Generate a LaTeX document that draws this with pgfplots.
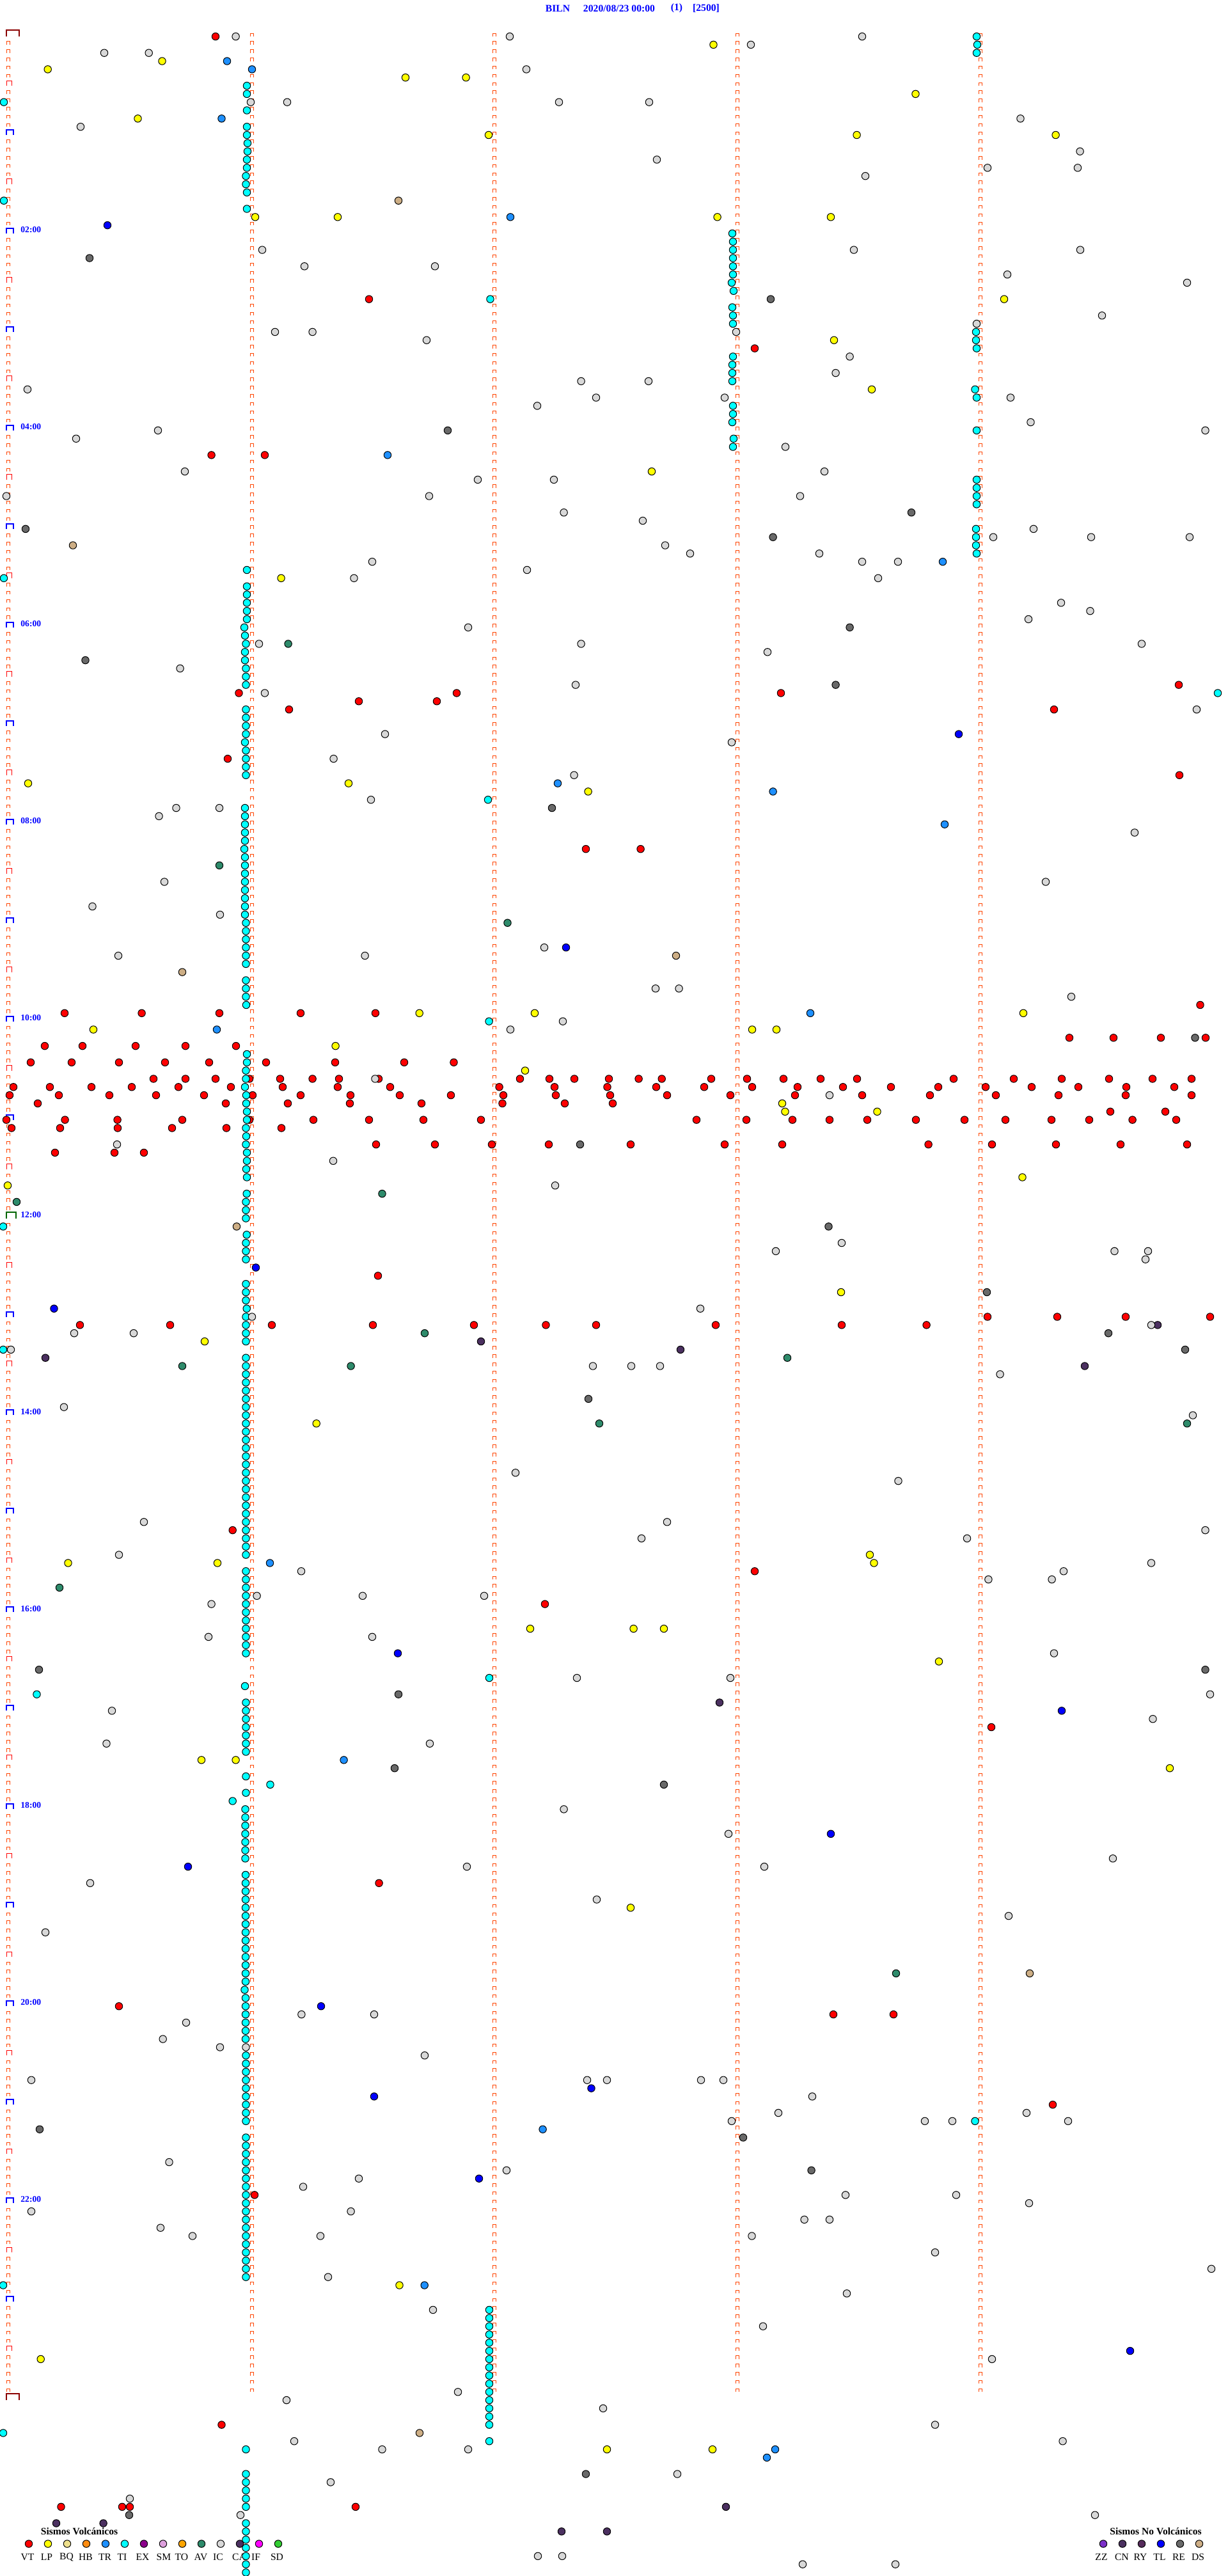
\documentclass[border=0pt]{standalone}
\usepackage{fontspec}
\setmainfont{Liberation Serif}
\usepackage{pgfplots}
\usepackage{pgfplotstable}
\pgfplotsset{compat=1.18}
\definecolor{cVT}{HTML}{FF0000}
\definecolor{cLP}{HTML}{FFFF00}
\definecolor{cBQ}{HTML}{EEE08C}
\definecolor{cHB}{HTML}{FF8C10}
\definecolor{cTR}{HTML}{1E90FF}
\definecolor{cTI}{HTML}{00FFFF}
\definecolor{cEX}{HTML}{8B008B}
\definecolor{cSM}{HTML}{DDA0DD}
\definecolor{cTO}{HTML}{FFA500}
\definecolor{cAV}{HTML}{2E8B6B}
\definecolor{cIC}{HTML}{D8D8D8}
\definecolor{cCA}{HTML}{4B3060}
\definecolor{cIF}{HTML}{FF00FF}
\definecolor{cSD}{HTML}{32CD32}
\definecolor{cZZ}{HTML}{7B2FC8}
\definecolor{cCN}{HTML}{4B3060}
\definecolor{cRY}{HTML}{552B5B}
\definecolor{cTL}{HTML}{0000FF}
\definecolor{cRE}{HTML}{696969}
\definecolor{cDS}{HTML}{CDAE85}
\definecolor{tickorange}{HTML}{FF4500}
\definecolor{tickred}{HTML}{FF0000}
\definecolor{tickdark}{HTML}{8B0000}
\definecolor{tickgreen}{HTML}{006400}
\pgfdeclareplotmark{tks}{\pgfpathmoveto{\pgfqpoint{0pt}{0pt}}\pgfpathlineto{\pgfqpoint{0pt}{2.5pt}}\pgfpathlineto{\pgfqpoint{2.6pt}{2.5pt}}\pgfpathlineto{\pgfqpoint{2.6pt}{0pt}}\pgfusepathqstroke}
\pgfdeclareplotmark{tkh}{\pgfpathmoveto{\pgfqpoint{0pt}{0pt}}\pgfpathlineto{\pgfqpoint{0pt}{4pt}}\pgfpathlineto{\pgfqpoint{4.2pt}{4pt}}\pgfpathlineto{\pgfqpoint{4.2pt}{0pt}}\pgfusepathqstroke}
\pgfdeclareplotmark{tkb}{\pgfpathmoveto{\pgfqpoint{0pt}{0pt}}\pgfpathlineto{\pgfqpoint{0pt}{4pt}}\pgfpathlineto{\pgfqpoint{5.3pt}{4pt}}\pgfpathlineto{\pgfqpoint{5.3pt}{0pt}}\pgfusepathqstroke}
\pgfdeclareplotmark{tkg}{\pgfpathmoveto{\pgfqpoint{0pt}{0pt}}\pgfpathlineto{\pgfqpoint{0pt}{4.6pt}}\pgfpathlineto{\pgfqpoint{7.6pt}{4.6pt}}\pgfpathlineto{\pgfqpoint{7.6pt}{0pt}}\pgfusepathqstroke}
\pgfdeclareplotmark{tkd}{\pgfpathmoveto{\pgfqpoint{0pt}{0pt}}\pgfpathlineto{\pgfqpoint{0pt}{5pt}}\pgfpathlineto{\pgfqpoint{10pt}{5pt}}\pgfpathlineto{\pgfqpoint{10pt}{0pt}}\pgfusepathqstroke}
\newcommand\pts[2]{\addplot[only marks,mark=*,mark size=2.85pt,mark options={fill=#1,draw=black,line width=0.5pt}] coordinates {#2};}
\newcommand\tmark[4]{\addplot[only marks,mark=#1,mark options={draw=#2,line width=#3}] coordinates {#4};}
\pgfplotstableread[row sep=\\]{y\\0\\1\\2\\3\\4\\5\\6\\7\\8\\9\\10\\11\\12\\13\\14\\15\\16\\17\\18\\19\\20\\21\\22\\23\\24\\25\\26\\27\\28\\29\\30\\31\\32\\33\\34\\35\\36\\37\\38\\39\\40\\41\\42\\43\\44\\45\\46\\47\\48\\49\\50\\51\\52\\53\\54\\55\\56\\57\\58\\59\\60\\61\\62\\63\\64\\65\\66\\67\\68\\69\\70\\71\\72\\73\\74\\75\\76\\77\\78\\79\\80\\81\\82\\83\\84\\85\\86\\87\\88\\89\\90\\91\\92\\93\\94\\95\\96\\97\\98\\99\\100\\101\\102\\103\\104\\105\\106\\107\\108\\109\\110\\111\\112\\113\\114\\115\\116\\117\\118\\119\\120\\121\\122\\123\\124\\125\\126\\127\\128\\129\\130\\131\\132\\133\\134\\135\\136\\137\\138\\139\\140\\141\\142\\143\\144\\145\\146\\147\\148\\149\\150\\151\\152\\153\\154\\155\\156\\157\\158\\159\\160\\161\\162\\163\\164\\165\\166\\167\\168\\169\\170\\171\\172\\173\\174\\175\\176\\177\\178\\179\\180\\181\\182\\183\\184\\185\\186\\187\\188\\189\\190\\191\\192\\193\\194\\195\\196\\197\\198\\199\\200\\201\\202\\203\\204\\205\\206\\207\\208\\209\\210\\211\\212\\213\\214\\215\\216\\217\\218\\219\\220\\221\\222\\223\\224\\225\\226\\227\\228\\229\\230\\231\\232\\233\\234\\235\\236\\237\\238\\239\\240\\241\\242\\243\\244\\245\\246\\247\\248\\249\\250\\251\\252\\253\\254\\255\\256\\257\\258\\259\\260\\261\\262\\263\\264\\265\\266\\267\\268\\269\\270\\271\\272\\273\\274\\275\\276\\277\\278\\279\\280\\281\\282\\283\\284\\285\\286\\287\\}\rowsall
\pgfplotstableread[row sep=\\]{y\\1\\2\\3\\4\\5\\7\\8\\9\\10\\11\\13\\14\\15\\16\\17\\19\\20\\21\\22\\23\\25\\26\\27\\28\\29\\31\\32\\33\\34\\35\\37\\38\\39\\40\\41\\43\\44\\45\\46\\47\\49\\50\\51\\52\\53\\55\\56\\57\\58\\59\\61\\62\\63\\64\\65\\67\\68\\69\\70\\71\\73\\74\\75\\76\\77\\79\\80\\81\\82\\83\\85\\86\\87\\88\\89\\91\\92\\93\\94\\95\\97\\98\\99\\100\\101\\103\\104\\105\\106\\107\\109\\110\\111\\112\\113\\115\\116\\117\\118\\119\\121\\122\\123\\124\\125\\127\\128\\129\\130\\131\\133\\134\\135\\136\\137\\139\\140\\141\\142\\143\\145\\146\\147\\148\\149\\151\\152\\153\\154\\155\\157\\158\\159\\160\\161\\163\\164\\165\\166\\167\\169\\170\\171\\172\\173\\175\\176\\177\\178\\179\\181\\182\\183\\184\\185\\187\\188\\189\\190\\191\\193\\194\\195\\196\\197\\199\\200\\201\\202\\203\\205\\206\\207\\208\\209\\211\\212\\213\\214\\215\\217\\218\\219\\220\\221\\223\\224\\225\\226\\227\\229\\230\\231\\232\\233\\235\\236\\237\\238\\239\\241\\242\\243\\244\\245\\247\\248\\249\\250\\251\\253\\254\\255\\256\\257\\259\\260\\261\\262\\263\\265\\266\\267\\268\\269\\271\\272\\273\\274\\275\\277\\278\\279\\280\\281\\283\\284\\285\\286\\287\\}\rowsfirst
\begin{document}
\begin{tikzpicture}
\useasboundingbox (0,0) rectangle (960pt,2013.5pt);
\begin{axis}[scale only axis,width=960pt,height=2013.5pt,xmin=0,xmax=1920,
  ymin=-4.443,ymax=309.43,y dir=reverse,hide axis,enlargelimits=false,clip=true]
% column ticks
\addplot[only marks,mark=tks,mark options={draw=tickorange,line width=0.5pt}] table[x expr=10.5,y=y] {\rowsfirst};
\addplot[only marks,mark=tks,mark options={draw=tickorange,line width=0.5pt}] table[x expr=391,y=y] {\rowsall};
\addplot[only marks,mark=tks,mark options={draw=tickorange,line width=0.5pt}] table[x expr=770.5,y=y] {\rowsall};
\addplot[only marks,mark=tks,mark options={draw=tickorange,line width=0.5pt}] table[x expr=1150.5,y=y] {\rowsall};
\addplot[only marks,mark=tks,mark options={draw=tickorange,line width=0.5pt}] table[x expr=1530.5,y=y] {\rowsall};
\tmark{tkh}{tickred}{0.5pt}{(10.5,6)(10.5,18)(10.5,30)(10.5,42)(10.5,54)(10.5,66)(10.5,78)(10.5,90)(10.5,102)(10.5,114)(10.5,126)(10.5,138)(10.5,150)(10.5,162)(10.5,174)(10.5,186)(10.5,198)(10.5,210)(10.5,222)(10.5,234)(10.5,246)(10.5,258)(10.5,270)(10.5,282)}
\tmark{tkb}{blue}{1pt}{(10,12)(10,24)(10,36)(10,48)(10,60)(10,72)(10,84)(10,96)(10,108)(10,120)(10,132)(10,156)(10,168)(10,180)(10,192)(10,204)(10,216)(10,228)(10,240)(10,252)(10,264)(10,276)}
\tmark{tkg}{tickgreen}{1pt}{(9.5,144)}
\tmark{tkd}{tickdark}{1pt}{(10,0)(10,288)}
% VT
\pts{cVT}{(337,0)(577,32)(1180,38)(330.6,51)(414,51)(1843,79)(373.5,80)(714,80)(1221,80)(561,81)(683,81)(452,82)(1648,82)(356,88)(1844,90)(916,99)(1001.6,99)(1876.5,118)
(101,119)(221.6,119)(343,119)(470,119)(587,119)
(1672,122)(1741,122)(1815,122)(1885,122)
(70,123)(129,123)(212,123)(290,123)(369,123)
(48,125)(112,125)(186,125)(258,125)(327,125)(416,125)(524,125)(632,125)(709.5,125)
(240,127)(290,127)(337,127)(390,127)(438,127)(488.6,127)(530,127)(592,127)(813,127)(859,127)(898,127)(952,127)(998.6,127)(1034.7,127)(1112,127)(1168,127)(1225,127)(1283,127)(1340,127)(1491,127)(1585,127)(1660,127)(1734,127)(1802,127)(1863,127)
(21,128)(78,128)(143,128)(206,128)(279,128)(361,128)(442,128)(528,128)(610,128)(780.6,128)(867,128)(949.5,128)(1026,128)(1101,128)(1176,128)(1247,128)(1318,128)(1393,128)(1467,128)(1541,128)(1613,128)(1686,128)(1761,128)(1836,128)
(15,129)(92,129)(171,129)(244,129)(319,129)(395,129)(470,129)(548,129)(625,129)(705,129)(787,129)(869,129)(954,129)(1043,129)(1142,129)(1243,129)(1348,129)(1454,129)(1557,129)(1655,129)(1760,129)(1863,129)
(59,130)(353,130)(450,130)(547,130)(659,130)(785.5,130)(883,130)(958,130)
(1736,131)(1822,131)
(10,132)(101.6,132)(183.6,132)(285,132)(390,132)(490,132)(577,132)(662,132)(752,132)(1089,132)(1167,132)(1239,132)(1297,132)(1356,132)(1432,132)(1508,132)(1572,132)(1644,132)(1703,132)(1770.6,132)(1839,132)
(18,133)(94,133)(184,133)(269,133)(354,133)(440,133)
(588,135)(680,135)(769,135)(858,135)(986,135)(1133,135)(1223,135)(1451.6,135)(1551,135)(1651,135)(1752,135)(1856,135)
(86,136)(179,136)(225,136)
(591,151)(1544,156)(1653,156)(1760,156)(1892,156)
(125,157)(266,157)(425,157)(583,157)(741,157)(853.5,157)(932,157)(1119,157)(1316,157)(1448.6,157)
(363.7,182)(1180,187)(852,191)(1550,206)(592.6,225)(186,240)(1303,241)(1397,241)(1646,252)(398,263)(346.5,291)(95.5,301)(191,301)(203,301)(556,301)}
% LP
\pts{cLP}{(1115.5,1)(253.5,3)(74.7,4)(634,5)(728.6,5)(1431.5,7)(215.5,10)(764,12)(1339.6,12)(1650.6,12)(399,22)(528,22)(1121.6,22)(1299,22)(1570,32)(1304,37)(1363,43)(1019,53)(439.6,66)(44,91)(545,91)(919.6,92)(655.7,119)(836,119)(1600,119)(146,121)(1176,121)(1214,121)(524.6,123)(821,126)(1223,130)(1227.5,131)(1371.5,131)(1598.5,139)(12,140)(1315,153)(320,159)(494.7,169)(1360,185)(106.5,186)(340,186)(1366.5,186)(829,194)(990.6,194)(1038,194)(1468,198)(315,210)(368.6,210)(1829,211)(986,228)(624.5,274)(63.7,283)(949,294)(1114,294)}
% TR
\pts{cTR}{(355,3)(394,4)(346.5,10)(798,22)(606,51)(1474,64)(872,91)(1208.6,92)(1477,96)(1267,119)(339,121)(422,186)(537.6,210)(848.6,255)(663.7,274)(1212,294)(1199,295)}
% DS
\pts{cDS}{(623,20)(114,62)(1057,112)(285,114)(370,145)(1610,236)(656,292)}
% AV
\pts{cAV}{(450.6,74)(343,101)(793.5,108)(597.5,141)(26,142)(664,158)(1231,161)(285,162)(548.6,162)(937,169)(1856,169)(93,189)(1401,236)}
% CN
\pts{cCN}{(1810,157)(752,159)(1064,160)(71,161)(1696,162)(1125,203)(1135,301)(88,303)(161.6,303)(878,304)(949,304)}
% TL
\pts{cTL}{(168,23)(1499,85)(885,111)(400,150)(84.5,155)(622,197)(1660,204)(1299,219)(294,223)(502,240)(924.5,250)(585,251)(749,261)(1767,282)}
% RE
\pts{cRE}{(140,27)(1205,32)(700,48)(1425,58)(40,60)(1208.6,61)(1328.6,72)(133.5,76)(1306.6,79)(863,94)(1868.5,122)(907,135)(1295.5,145)(1543,153)(1733,158)(1853,160)(920,166)(61,199)(1884.5,199)(623,202)(617,211)(1038,213)(62,255)(1162,256)(1268.6,260)(916,297)(202,302)}
% TI
\pts{cTI}{(1527,0)(1528,1)(1527,2)(386,6)(386,7)(6,8)(386,9)(386,11)(386,12)(387,13)(387,14)(386,15)(386,16)(384.5,17)(384.5,18)(386,19)(6,20)(386,21)
(1145,24)(1146,25)(1146,26)(1146,27)(1146,28)(1146,29)(1144,30)(1147,31)(766.5,32)(1145,33)(1146,34)(1146,35)(1526,36)(1526,37)(1527,38)(1146,39)(1145,40)(1145,41)(1145,42)(1524.5,43)(1527,44)(1146,45)(1146,46)(1145,47)(1527,48)(1147,49)(1146,50)(1527,54)(1527,55)(1527,56)(1527,57)
(1526,60)(1526,61)(1526,62)(1527,63)(386,65)(6,66)(386,67)(386,68)(386,69)(386,70)(386,71)(382,72)(383,73)(384.5,74)(383,75)(383,76)(384.5,77)(384.5,78)(384.5,79)(1904,80)
(384.5,82)(384.5,83)(384.5,84)(384.5,85)(383,86)(384.5,87)(384.5,88)(384.5,89)(384.5,90)(763,93)(383,94)(383,95)(383,96)(383,97)(383,98)(382,99)(383,100)(383,101)(383,102)(383,103)(383,104)(383,105)(383,106)(383,107)
(384.5,108)(384.5,109)(384.5,110)(384.5,111)(384.5,112)(384.5,113)(384.5,115)(384.5,116)(384.5,117)(385,118)(764.6,120)
(386,124)(386,125)(384.5,126)(384.5,127)(383,128)(385,129)(385,130)(386,131)(386,132)(384.5,133)(385,134)(384.5,135)(386,136)(386,137)(385,138)(386,139)
(385.7,141)(384.5,142)(384.5,143)(384.5,144)(5,145)(385.7,146)(384.5,147)(384.5,148)(384.5,149)
(384.5,152)(384.5,153)(384.5,154)(385.7,155)(384.5,156)(384.5,157)(384.5,158)(384.5,159)(5,160)(384.5,161)(384.5,162)(384.5,163)(384.5,164)(384.5,165)(384.5,166)(384.5,167)(384.5,168)(384.5,169)(384.5,170)(384.5,171)(384.5,172)(384.5,173)(384.5,174)(384.5,175)(384.5,176)(384.5,177)(384.5,178)(384.5,179)(384.5,180)(384.5,181)(384.5,182)(384.5,183)(384.5,184)(384.5,185)
(384.5,187)(384.5,188)(384.5,189)(384.5,190)(384.5,191)(384.5,192)(384.5,193)(384.5,194)(384.5,195)(384.5,196)(384.5,197)
(765,200)(383,201)(57.5,202)(384.5,203)(384.5,204)(384.5,205)(384.5,206)(384.5,207)(384.5,208)(384.5,209)(384.5,212)(422.5,213)(384.5,214)(363.7,215)(383.5,216)(383.5,217)(383.5,218)(383.5,219)(383.5,220)(383.5,221)(383.5,222)
(384,224)(384,225)(384,226)(384,227)(384,228)(384,229)(384,230)(384,231)(384,232)(384,233)(384,234)(384,235)(384,236)(384,237)(382.5,238)(384,239)(384,240)(384,241)(384,242)(384,243)(384,244)
(384.5,246)(384.5,247)(384.5,248)(384.5,249)(384.5,250)(384.5,251)(384.5,252)(384.5,253)(384.5,254)(1524.5,254)
(384.5,256)(384.5,257)(384.5,258)(384.5,259)(384.5,260)(384.5,261)(384.5,262)(384.5,263)(384.5,264)(384.5,265)(384.5,266)(384.5,267)(384.5,268)(384.5,269)(384.5,270)(384.5,271)(384.5,272)(384.5,273)(5,274)
(765,277)(765,278)(765,279)(765,280)(765,281)(765,282)(765,283)(765,284)(765,285)(765,286)(765,287)(765,288)(765,289)(765,290)(765,291)(5,292)(765,293)
(384.5,294)(384.5,297)(384.5,298)(384.5,299)(384.5,300)(384.5,301)(384.5,303)(384.5,304)(384.5,305)(384.5,306)(384.5,307)(384.5,308)(384.5,309)}
% IC
\pts{cIC}{(368.6,0)(797,0)(1348,0)(1174,1)(163,2)(232.7,2)(823,4)(392,8)(449,8)(874,8)(1015,8)(1595.5,10)(126,11)(1688.6,14)(1027,15)(1544,16)(1685,16)(1353,17)
(410,26)(1335,26)(1689,26)(476,28)(680,28)(1575,29)(1856,30)(1723,34)(1527,35)(430,36)(488.6,36)(1151,36)(667,37)(1328.6,39)(1306.6,41)(908.6,42)(1014,42)(43,43)(932,44)(1133,44)(1580,44)(840,45)(1611.5,47)(247,48)(1884.5,48)(119,49)(1228,50)(289,53)(1289,53)(747,54)(866,54)(10,56)(671,56)(1251,56)(881.6,58)
(1005,59)(1616,60)(1553,61)(1706,61)(1860,61)(1040,62)(1079,63)(1281,63)(582,64)(1348,64)(1404,64)(824,65)(553.5,66)(1373,66)(1659,69)(1704.5,70)(1608,71)(732,72)(405,74)(908.6,74)(1785,74)(1200,75)(281.6,77)(900,79)(414,80)(1871,82)(602,85)(1144,86)(521.6,88)(897.6,90)(580,93)(275.5,94)(343,94)(248.6,95)(1774,97)(257,103)(1635,103)(144.5,106)(344,107)(851,111)(185,112)(570.6,112)(1025,116)(1061.6,116)(1675,117)
(880,120)(798,121)(586.5,127)(1297,129)(183,135)(521,137)(868,140)
(1316,147)(1213,148)(1742.5,148)(1795,148)(1791,149)(1095,155)(394,156)(1800,157)(116,158)(209,158)(17,160)(927,162)(987,162)(1032,162)(1563.6,163)(100,167)(1865,168)(806,175)(1404.5,176)(225,181)(1043,181)(1884.5,182)(1003,183)(1512,183)(186,185)(1800,186)(471,187)(1663,187)(1545.4,188)(1644.6,188)(401.6,190)(567,190)(757,190)(330.6,191)(326,195)(582,195)(1648,197)(902,200)(1142,200)(1892,202)
(175,204)(1802.5,205)(166.5,208)(672,208)(881.6,216)(1139,219)(1740,222)(730,223)(1195,223)(141,225)(933,227)(1577,229)(71,231)(471.4,241)(585,241)(291,242)(254.7,244)(344,245)(384.5,245)(664,246)(49,249)(918,249)(949,249)(1096,249)(1131,249)(1270,251)(1217,253)(1605,253)(1144,254)(1446,254)(1489,254)(1670,254)(264.5,259)(792,260)(561,261)(474,262)(1322,263)(1495,263)(1609,264)(548.6,265)(49,265)
(1257.6,266)(1297,266)(251,267)(301,268)(501,268)(1175.5,268)(1462,270)(1894,272)(513,273)(1324,275)(677,277)(1193,279)(1551,283)(716,287)(448,288)(943,289)(1462,291)(460,293)(1661.6,293)(597.5,294)(732,294)(1059,297)(517,298)(203,300)(376,302)(1712,302)(841,307)(879,307)(1255,308)(1400,308)}
% legend circles
\pts{cVT}{(45,305.5)}\pts{cLP}{(75,305.5)}\pts{cBQ}{(105,305.5)}\pts{cHB}{(135,305.5)}\pts{cTR}{(165,305.5)}\pts{cTI}{(195,305.5)}\pts{cEX}{(225,305.5)}\pts{cSM}{(255,305.5)}\pts{cTO}{(285,305.5)}\pts{cAV}{(315,305.5)}\pts{cIC}{(345,305.5)}\pts{cCA}{(375,305.5)}\pts{cIF}{(405,305.5)}\pts{cSD}{(435,305.5)}
\pts{cZZ}{(1725,305.5)}\pts{cCN}{(1755,305.5)}\pts{cRY}{(1785,305.5)}\pts{cTL}{(1815,305.5)}\pts{cRE}{(1845,305.5)}\pts{cDS}{(1875,305.5)}
% title
\begin{scope}[every node/.style={text=blue,inner sep=0pt,font=\fontsize{7.85}{9}\selectfont\bfseries}]
\node at (axis cs:872,-3.43) {BILN};
\node at (axis cs:968,-3.43) {2020/08/23 00:00};
\node at (axis cs:1058,-3.43) {(1)};
\node at (axis cs:1104,-3.43) {[2500]};
\end{scope}
\begin{scope}[every node/.style={text=blue,inner sep=0pt,anchor=west,font=\fontsize{6.8}{8}\selectfont\bfseries}]
\node at (axis cs:32,23.55) {02:00};
\node at (axis cs:32,47.55) {04:00};
\node at (axis cs:32,71.55) {06:00};
\node at (axis cs:32,95.55) {08:00};
\node at (axis cs:32,119.55) {10:00};
\node at (axis cs:32,143.55) {12:00};
\node at (axis cs:32,167.55) {14:00};
\node at (axis cs:32,191.55) {16:00};
\node at (axis cs:32,215.55) {18:00};
\node at (axis cs:32,239.55) {20:00};
\node at (axis cs:32,263.55) {22:00};
\end{scope}
\begin{scope}[every node/.style={text=black,inner sep=0pt,font=\fontsize{7.8}{9}\selectfont}]
\node[font=\fontsize{7.8}{9}\selectfont\bfseries] at (axis cs:124,304) {Sismos Volcánicos};
\node[font=\fontsize{7.8}{9}\selectfont\bfseries] at (axis cs:1807,304) {Sismos No Volcánicos};
\node at (axis cs:43,307.1) {VT};
\node at (axis cs:73,307.1) {LP};
\node at (axis cs:104,307.1) {BQ};
\node at (axis cs:134,307.1) {HB};
\node at (axis cs:164,307.1) {TR};
\node at (axis cs:191,307.1) {TI};
\node at (axis cs:223,307.1) {EX};
\node at (axis cs:256,307.1) {SM};
\node at (axis cs:284,307.1) {TO};
\node at (axis cs:314,307.1) {AV};
\node at (axis cs:341,307.1) {IC};
\node at (axis cs:374,307.1) {CA};
\node at (axis cs:400,307.1) {IF};
\node at (axis cs:433,307.1) {SD};
\node at (axis cs:1722,307.1) {ZZ};
\node at (axis cs:1754,307.1) {CN};
\node at (axis cs:1783,307.1) {RY};
\node at (axis cs:1813,307.1) {TL};
\node at (axis cs:1843,307.1) {RE};
\node at (axis cs:1873,307.1) {DS};
\end{scope}
\end{axis}
\end{tikzpicture}
\end{document}
